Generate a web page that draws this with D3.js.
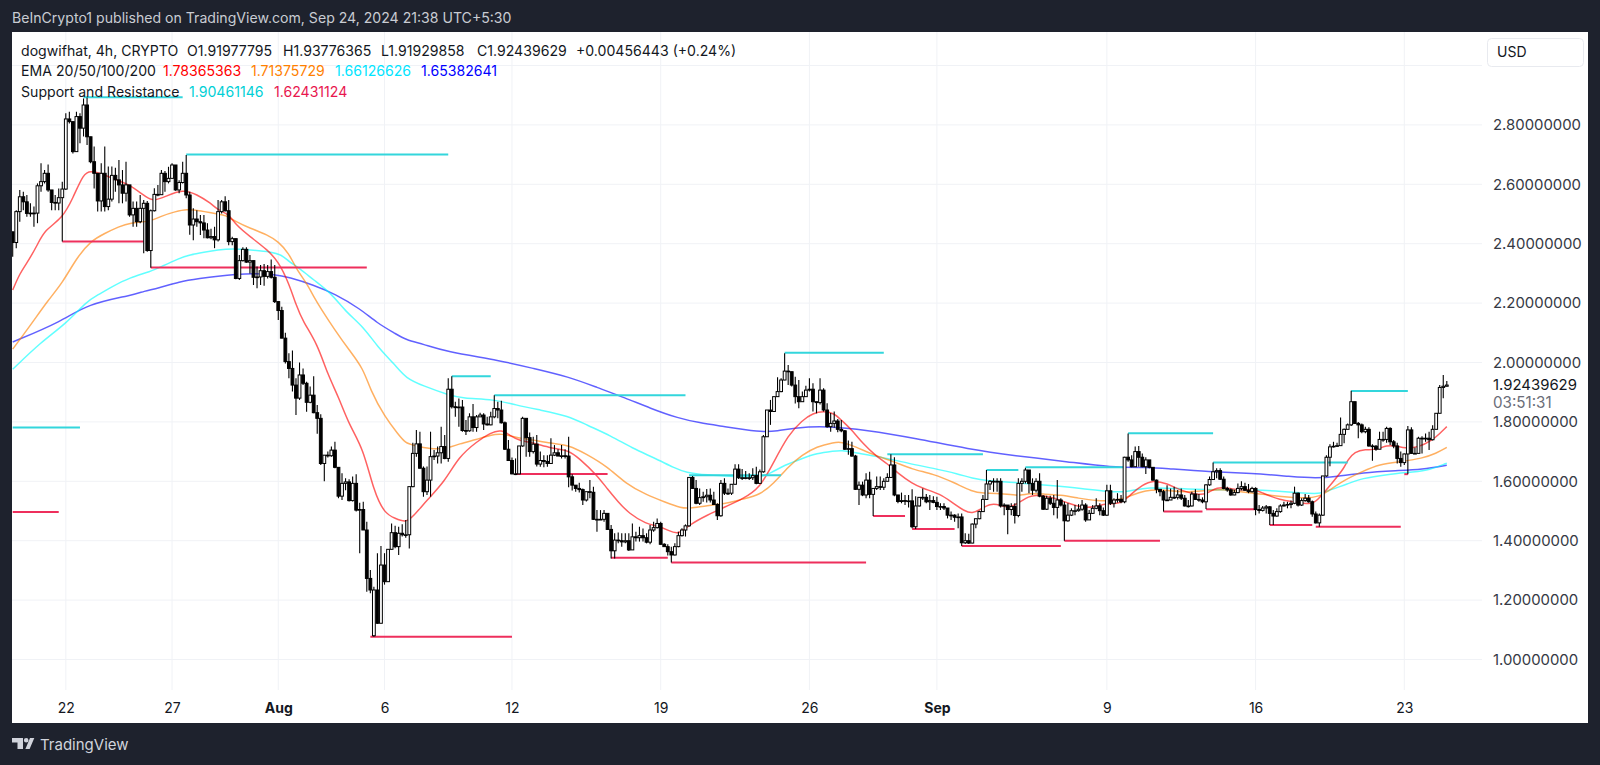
<!DOCTYPE html>
<html>
<head>
<meta charset="utf-8">
<script src="https://cdn.jsdelivr.net/npm/d3@7/dist/d3.min.js"></script>
<style>
html, body { margin: 0; padding: 0; background: #1e222d; }
svg { display: block; }
text { font-family: Inter, "Noto Sans", sans-serif; }
</style>
</head>
<body>
<script>
// 4h candles, one row = 10 candles. open = previous close unless listed in gapOpen*
var firstOpen = 2.44;
var gapOpenIndex = [102];
var gapOpenValue = [1.08];

var closes = [
2.404,2.508,2.558,2.541,2.502,2.503,2.503,2.595,2.609,2.637,
2.581,2.539,2.537,2.555,2.584,2.82,2.811,2.71,2.828,2.789,
2.867,2.76,2.676,2.637,2.544,2.637,2.525,2.55,2.63,2.615,
2.598,2.57,2.598,2.497,2.519,2.474,2.519,2.536,2.377,2.511,
2.566,2.565,2.637,2.609,2.62,2.665,2.581,2.606,2.637,2.564,
2.463,2.483,2.474,2.47,2.446,2.42,2.424,2.413,2.508,2.541,
2.511,2.407,2.417,2.283,2.343,2.381,2.338,2.343,2.287,2.288,
2.309,2.29,2.306,2.287,2.205,2.175,2.082,2.003,1.98,1.924,
1.88,1.958,1.93,1.866,1.89,1.831,1.812,1.66,1.688,1.686,
1.705,1.647,1.55,1.593,1.598,1.535,1.593,1.503,1.505,1.436,
1.273,1.234,1.234,1.122,1.318,1.262,1.371,1.427,1.38,1.425,
1.42,1.42,1.582,1.694,1.726,1.644,1.565,1.604,1.683,1.685,
1.696,1.717,1.677,1.91,1.851,1.848,1.85,1.771,1.77,1.817,
1.781,1.817,1.823,1.793,1.79,1.817,1.845,1.84,1.797,1.708,
1.67,1.625,1.625,1.719,1.812,1.747,1.7,1.725,1.658,1.67,
1.667,1.66,1.688,1.696,1.685,1.686,1.685,1.615,1.587,1.576,
1.572,1.537,1.565,1.563,1.472,1.472,1.472,1.492,1.438,1.366,
1.402,1.4,1.396,1.4,1.369,1.413,1.41,1.417,1.41,1.395,
1.436,1.444,1.458,1.388,1.38,1.363,1.352,1.38,1.417,1.436,
1.45,1.613,1.576,1.526,1.545,1.548,1.553,1.537,1.522,1.484,
1.593,1.56,1.56,1.59,1.641,1.612,1.612,1.612,1.612,1.619,
1.593,1.632,1.75,1.84,1.835,1.885,1.902,1.941,1.971,1.969,
1.924,1.885,1.868,1.885,1.907,1.91,1.868,1.865,1.907,1.84,
1.784,1.795,1.803,1.775,1.77,1.708,1.71,1.685,1.573,1.587,
1.554,1.604,1.556,1.576,1.582,1.58,1.6,1.613,1.655,1.554,
1.532,1.535,1.534,1.534,1.447,1.517,1.546,1.546,1.531,1.535,
1.529,1.515,1.515,1.51,1.486,1.486,1.479,1.48,1.393,1.4,
1.392,1.456,1.474,1.498,1.539,1.591,1.6,1.6,1.6,1.517,
1.52,1.505,1.515,1.485,1.593,1.6,1.638,1.593,1.57,1.6,
1.55,1.506,1.543,1.526,1.512,1.537,1.52,1.467,1.486,1.501,
1.501,1.506,1.52,1.47,1.492,1.509,1.517,1.501,1.486,1.568,
1.526,1.537,1.539,1.531,1.681,1.672,1.649,1.7,1.681,1.649,
1.672,1.647,1.604,1.573,1.565,1.537,1.537,1.546,1.546,1.554,
1.543,1.517,1.517,1.557,1.539,1.537,1.531,1.588,1.606,1.632,
1.636,1.607,1.576,1.571,1.554,1.562,1.576,1.582,1.57,1.565,
1.576,1.505,1.502,1.51,1.514,1.492,1.483,1.498,1.517,1.52,
1.522,1.526,1.56,1.52,1.535,1.543,1.531,1.49,1.46,1.486,
1.618,1.681,1.716,1.718,1.72,1.758,1.775,1.79,1.868,1.795,
1.79,1.767,1.775,1.719,1.718,1.708,1.741,1.741,1.778,1.733,
1.719,1.677,1.663,1.692,1.773,1.694,1.694,1.745,1.745,1.745,
1.74,1.775,1.829,1.916,1.92,1.924
];

var highs = [
2.44,2.513,2.581,2.575,2.564,2.536,2.525,2.603,2.671,2.648,
2.667,2.581,2.564,2.586,2.609,2.839,2.844,2.811,2.844,2.839,
2.889,2.892,2.76,2.727,2.637,2.671,2.727,2.66,2.66,2.656,
2.682,2.648,2.676,2.598,2.542,2.542,2.564,2.547,2.544,2.515,
2.587,2.598,2.648,2.645,2.659,2.671,2.665,2.614,2.676,2.699,
2.575,2.519,2.513,2.497,2.497,2.469,2.45,2.457,2.547,2.547,
2.56,2.547,2.423,2.417,2.362,2.388,2.388,2.362,2.343,2.323,
2.328,2.332,2.328,2.347,2.328,2.205,2.188,2.1,2.031,2.04,
1.947,2.0,1.98,1.935,1.919,1.954,1.857,1.826,1.688,1.7,
1.717,1.733,1.647,1.627,1.61,1.607,1.616,1.624,1.528,1.531,
1.464,1.301,1.245,1.358,1.382,1.358,1.371,1.458,1.45,1.447,
1.455,1.47,1.582,1.73,1.773,1.767,1.65,1.65,1.767,1.705,
1.717,1.784,1.756,1.947,1.954,1.868,1.879,1.874,1.806,1.829,
1.86,1.823,1.831,1.829,1.817,1.834,1.89,1.868,1.871,1.801,
1.739,1.68,1.677,1.719,1.817,1.812,1.764,1.75,1.756,1.7,
1.688,1.688,1.745,1.722,1.708,1.722,1.708,1.75,1.624,1.587,
1.595,1.576,1.565,1.604,1.582,1.503,1.503,1.503,1.492,1.453,
1.425,1.428,1.425,1.425,1.425,1.458,1.43,1.447,1.441,1.425,
1.453,1.464,1.475,1.464,1.391,1.388,1.38,1.391,1.43,1.442,
1.455,1.613,1.618,1.604,1.576,1.565,1.574,1.576,1.565,1.526,
1.604,1.61,1.576,1.59,1.657,1.657,1.641,1.635,1.627,1.644,
1.649,1.64,1.756,1.84,1.874,1.885,1.95,1.947,2.031,1.992,
1.969,1.952,1.941,1.902,1.922,1.947,1.93,1.868,1.947,1.913,
1.863,1.83,1.835,1.81,1.806,1.773,1.737,1.733,1.689,1.599,
1.599,1.627,1.632,1.576,1.616,1.616,1.61,1.627,1.691,1.681,
1.554,1.562,1.554,1.554,1.573,1.55,1.546,1.576,1.557,1.554,
1.55,1.548,1.526,1.526,1.509,1.498,1.489,1.492,1.492,1.425,
1.423,1.458,1.475,1.501,1.554,1.638,1.604,1.61,1.61,1.61,
1.526,1.52,1.526,1.526,1.61,1.61,1.646,1.638,1.61,1.61,
1.627,1.554,1.551,1.551,1.554,1.604,1.543,1.531,1.526,1.509,
1.52,1.523,1.537,1.526,1.503,1.52,1.543,1.526,1.512,1.588,
1.588,1.543,1.56,1.554,1.683,1.761,1.688,1.717,1.719,1.694,
1.681,1.672,1.647,1.606,1.573,1.571,1.587,1.576,1.582,1.571,
1.576,1.554,1.537,1.565,1.573,1.557,1.546,1.59,1.616,1.663,
1.644,1.644,1.616,1.582,1.576,1.571,1.593,1.6,1.595,1.591,
1.582,1.58,1.52,1.517,1.52,1.517,1.503,1.509,1.523,1.531,
1.531,1.535,1.582,1.562,1.543,1.557,1.554,1.535,1.498,1.492,
1.618,1.688,1.725,1.733,1.73,1.815,1.778,1.795,1.905,1.868,
1.8,1.795,1.784,1.782,1.725,1.722,1.767,1.767,1.784,1.782,
1.739,1.73,1.7,1.694,1.786,1.782,1.714,1.75,1.752,1.761,
1.767,1.789,1.829,1.924,1.958,1.938
];

var lows = [
2.356,2.385,2.474,2.513,2.491,2.491,2.457,2.469,2.575,2.603,
2.575,2.513,2.513,2.513,2.407,2.581,2.805,2.704,2.71,2.738,
2.761,2.732,2.671,2.586,2.508,2.508,2.508,2.513,2.542,2.575,
2.536,2.536,2.542,2.491,2.457,2.457,2.469,2.368,2.373,2.319,
2.508,2.56,2.564,2.575,2.603,2.62,2.578,2.57,2.603,2.553,
2.43,2.412,2.457,2.429,2.418,2.418,2.415,2.385,2.407,2.502,
2.508,2.395,2.395,2.28,2.278,2.34,2.336,2.3,2.261,2.25,
2.261,2.258,2.283,2.283,2.2,2.143,2.082,1.997,1.947,1.902,
1.823,1.874,1.924,1.834,1.863,1.829,1.76,1.655,1.6,1.68,
1.683,1.644,1.543,1.537,1.57,1.532,1.532,1.498,1.358,1.436,
1.228,1.223,1.077,1.12,1.122,1.252,1.262,1.37,1.375,1.352,
1.414,1.41,1.374,1.58,1.683,1.643,1.548,1.554,1.548,1.672,
1.66,1.66,1.674,1.666,1.845,1.817,1.784,1.767,1.756,1.767,
1.767,1.767,1.817,1.773,1.788,1.789,1.812,1.812,1.795,1.705,
1.669,1.624,1.621,1.624,1.716,1.683,1.683,1.694,1.65,1.649,
1.647,1.649,1.66,1.685,1.685,1.677,1.677,1.58,1.569,1.565,
1.562,1.52,1.532,1.543,1.47,1.43,1.47,1.464,1.436,1.34,
1.34,1.391,1.38,1.391,1.365,1.369,1.397,1.397,1.397,1.391,
1.388,1.43,1.441,1.386,1.38,1.35,1.327,1.35,1.378,1.414,
1.414,1.447,1.574,1.523,1.52,1.531,1.529,1.529,1.52,1.47,
1.481,1.554,1.554,1.554,1.588,1.608,1.604,1.607,1.604,1.604,
1.59,1.592,1.629,1.75,1.79,1.834,1.885,1.9,1.94,1.924,
1.919,1.862,1.846,1.868,1.885,1.902,1.835,1.829,1.859,1.835,
1.78,1.767,1.78,1.765,1.765,1.705,1.689,1.683,1.571,1.52,
1.55,1.543,1.543,1.483,1.571,1.571,1.571,1.6,1.613,1.55,
1.526,1.526,1.52,1.512,1.442,1.439,1.515,1.537,1.526,1.503,
1.526,1.503,1.503,1.503,1.475,1.47,1.464,1.442,1.382,1.389,
1.389,1.391,1.442,1.472,1.498,1.537,1.571,1.565,1.565,1.512,
1.486,1.422,1.486,1.458,1.479,1.565,1.593,1.56,1.554,1.562,
1.546,1.503,1.503,1.52,1.486,1.475,1.515,1.4,1.464,1.483,
1.486,1.498,1.501,1.464,1.47,1.49,1.506,1.486,1.483,1.483,
1.52,1.512,1.528,1.526,1.526,1.666,1.647,1.649,1.649,1.647,
1.625,1.644,1.602,1.56,1.55,1.498,1.535,1.537,1.54,1.539,
1.537,1.515,1.512,1.515,1.537,1.531,1.526,1.507,1.585,1.604,
1.61,1.604,1.573,1.565,1.551,1.553,1.56,1.57,1.568,1.56,
1.562,1.486,1.492,1.498,1.492,1.453,1.453,1.481,1.494,1.515,
1.509,1.509,1.523,1.515,1.517,1.531,1.528,1.481,1.458,1.447,
1.483,1.615,1.651,1.714,1.716,1.72,1.728,1.775,1.786,1.793,
1.745,1.762,1.762,1.716,1.669,1.703,1.708,1.733,1.73,1.722,
1.711,1.66,1.649,1.655,1.624,1.692,1.692,1.694,1.694,1.733,
1.705,1.737,1.775,1.829,1.88,1.919
];

// EMA values read at sampled candle positions
var ema20Idx = [0,2,4,7,9,14,17,20,22,25,28,33,38,40,43,48,52,56,58,61,63,67,72,75,78,80,82,86,89,92,95,99,102,105,108,111,113,117,122,126,131,135,138,141,143,147,152,157,160,165,168,171,174,179,182,185,188,191,196,202,206,211,215,219,223,226,229,232,234,237,240,244,247,250,254,257,262,265,269,271,273,276,279,281,284,287,289,294,298,302,305,309,313,316,319,322,326,330,334,337,340,344,347,350,353,358,362,367,369,373,376,377,379,382,385,388,391,393,397,401,403,405];
var ema20Val = [2.244,2.3,2.334,2.396,2.446,2.485,2.553,2.637,2.645,2.637,2.62,2.6,2.553,2.544,2.558,2.584,2.566,2.536,2.513,2.5,2.463,2.424,2.379,2.34,2.267,2.194,2.137,2.064,1.958,1.885,1.79,1.711,1.565,1.492,1.475,1.461,1.48,1.537,1.599,1.683,1.733,1.764,1.775,1.75,1.737,1.73,1.711,1.705,1.677,1.621,1.573,1.531,1.492,1.456,1.45,1.436,1.419,1.453,1.486,1.518,1.54,1.576,1.666,1.756,1.806,1.829,1.837,1.829,1.806,1.773,1.728,1.683,1.66,1.627,1.593,1.576,1.557,1.531,1.498,1.492,1.503,1.526,1.52,1.509,1.526,1.55,1.554,1.546,1.526,1.512,1.512,1.526,1.523,1.559,1.587,1.604,1.593,1.568,1.557,1.554,1.582,1.576,1.568,1.576,1.56,1.537,1.531,1.52,1.543,1.6,1.644,1.672,1.7,1.708,1.705,1.722,1.719,1.711,1.714,1.739,1.761,1.784];

var ema50Idx = [0,5,10,14,18,22,26,30,33,39,42,46,49,53,58,60,63,67,72,75,78,80,83,85,87,91,95,99,101,105,109,111,113,118,123,126,131,135,138,142,147,152,157,162,168,173,179,184,189,191,196,202,206,211,215,219,223,227,232,234,238,243,249,254,260,266,271,274,279,284,287,291,296,301,306,312,315,320,325,331,338,343,348,353,358,365,369,372,376,381,386,392,398,402,405];
var ema50Val = [2.045,2.125,2.21,2.267,2.351,2.409,2.435,2.457,2.471,2.474,2.494,2.508,2.517,2.511,2.499,2.497,2.474,2.452,2.43,2.407,2.368,2.317,2.267,2.222,2.182,2.109,2.042,1.98,1.907,1.818,1.756,1.728,1.722,1.708,1.711,1.726,1.741,1.756,1.761,1.748,1.739,1.728,1.722,1.692,1.649,1.593,1.554,1.531,1.509,1.509,1.518,1.526,1.54,1.554,1.593,1.649,1.689,1.717,1.731,1.733,1.717,1.689,1.666,1.64,1.625,1.595,1.565,1.56,1.56,1.55,1.56,1.557,1.554,1.543,1.534,1.535,1.548,1.571,1.571,1.562,1.571,1.573,1.562,1.557,1.548,1.543,1.548,1.571,1.604,1.632,1.658,1.666,1.677,1.694,1.714];

var ema100Idx = [0,8,15,21,24,28,33,39,42,47,50,54,58,62,67,73,76,78,81,85,90,94,99,103,108,111,116,123,127,136,142,149,157,162,169,175,181,187,190,196,204,211,214,218,223,227,232,234,238,245,253,260,267,271,275,284,293,302,309,315,320,332,343,353,363,369,372,377,381,388,396,400,405];
var ema100Val = [1.977,2.069,2.13,2.207,2.227,2.255,2.286,2.306,2.323,2.351,2.362,2.371,2.379,2.384,2.379,2.373,2.362,2.34,2.317,2.278,2.233,2.171,2.121,2.053,1.992,1.947,1.921,1.891,1.879,1.876,1.857,1.84,1.82,1.79,1.753,1.711,1.68,1.644,1.63,1.621,1.616,1.613,1.627,1.655,1.677,1.694,1.702,1.705,1.696,1.683,1.66,1.644,1.625,1.61,1.602,1.595,1.586,1.576,1.565,1.563,1.582,1.573,1.571,1.571,1.562,1.556,1.571,1.591,1.61,1.623,1.632,1.638,1.661];

var ema200Idx = [0,14,21,34,37,41,47,53,58,63,68,74,78,85,91,98,103,108,111,116,122,138,147,157,165,173,180,188,194,200,211,216,221,230,241,255,270,283,298,310,321,325,338,350,361,368,374,381,391,398,405];
var ema200Val = [2.069,2.139,2.197,2.227,2.24,2.25,2.272,2.283,2.291,2.297,2.3,2.297,2.287,2.261,2.231,2.182,2.132,2.098,2.076,2.062,2.037,2.006,1.98,1.952,1.916,1.881,1.846,1.812,1.797,1.786,1.765,1.769,1.781,1.786,1.773,1.745,1.708,1.686,1.666,1.647,1.647,1.644,1.632,1.627,1.616,1.61,1.616,1.629,1.636,1.64,1.654];

// support and resistance segments (candle index from, index to, price)
var resFrom = [0,20,49,124,136,191,218,247,275,286,315,339,378];
var resTo = [19,48,123,135,190,217,246,274,284,314,339,377,394];
var resPrice = [1.781,2.893,2.7,1.954,1.89,1.62,2.033,1.691,1.638,1.647,1.762,1.663,1.904];
var supFrom = [0,14,39,101,142,169,186,243,254,268,297,325,337,355,368,393];
var supTo = [13,37,100,141,168,185,241,252,266,296,324,336,351,367,392,394];
var supPrice = [1.497,2.407,2.32,1.077,1.625,1.343,1.327,1.483,1.439,1.382,1.4,1.498,1.506,1.453,1.447,1.624];

var priceTicks = [1,1.2,1.4,1.6,1.8,2,2.2,2.4,2.6,2.8];
var priceGrid = [1,1.2,1.4,1.6,1.8,2,2.2,2.4,2.6,2.8,3];
var timeIdx = [15,45,75,105,141,183,225,261,309,351,393];
var timeLabels = ["22","27","Aug","6","12","19","26","Sep","9","16","23"];
var lastClose = 1.92439629;

var width = 1600, height = 765;
var panel = {left: 12, top: 32, right: 1588, bottom: 723};
var plotRight = 1482, plotBottom = 690;

var svg = d3.select("body").append("svg")
  .attr("width", width)
  .attr("height", height);

svg.append("rect").attr("width", width).attr("height", height).attr("fill", "#1e222d");
svg.append("rect")
  .attr("x", panel.left).attr("y", panel.top)
  .attr("width", panel.right - panel.left).attr("height", panel.bottom - panel.top)
  .attr("fill", "#fff");

svg.append("clipPath").attr("id", "plot")
  .append("rect")
  .attr("x", panel.left).attr("y", panel.top)
  .attr("width", plotRight - panel.left).attr("height", plotBottom - panel.top);

var x = d3.scaleLinear().domain([0, 405]).range([12.7, 1446.8]);
var y = d3.scaleLinear().domain([1, 2]).range([659.5, 362.5]);

// grid
svg.append("g").selectAll("line").data(priceGrid).enter().append("line")
  .attr("x1", panel.left).attr("x2", plotRight)
  .attr("y1", function(d) { return y(d); }).attr("y2", function(d) { return y(d); })
  .attr("stroke", "#f0f2f6").attr("stroke-width", 1);
svg.append("g").selectAll("line").data(timeIdx).enter().append("line")
  .attr("x1", function(d) { return x(d); }).attr("x2", function(d) { return x(d); })
  .attr("y1", panel.top).attr("y2", plotBottom)
  .attr("stroke", "#f0f2f6").attr("stroke-width", 1);

// axes
var yAxis = d3.axisRight(y).tickValues(priceTicks).tickSize(0).tickPadding(0).tickFormat(d3.format(".8f"));
var yg = svg.append("g").attr("transform", "translate(1493,0)").call(yAxis);
yg.select(".domain").remove();
yg.selectAll("text").attr("font-size", 14.9).attr("fill", "#363a45").style("font-family", "Inter");

var xAxis = d3.axisBottom(x).tickValues(timeIdx).tickSize(0).tickPadding(0)
  .tickFormat(function(d, i) { return timeLabels[i]; });
var xg = svg.append("g").attr("transform", "translate(0,703)").call(xAxis);
xg.select(".domain").remove();
xg.selectAll("text").attr("font-size", 14).attr("fill", "#131722").style("font-family", "Inter")
  .attr("font-weight", function(d, i) { return (timeLabels[i] == "Aug" || timeLabels[i] == "Sep") ? 700 : 400; });

var chart = svg.append("g").attr("clip-path", "url(#plot)");

// ema lines
var emaLine = d3.line()
  .x(function(d) { return x(d[0]); })
  .y(function(d) { return y(d[1]); })
  .curve(d3.curveBasis);
var emas = [
  {idx: ema200Idx, val: ema200Val, color: "#0000ff"},
  {idx: ema100Idx, val: ema100Val, color: "#00ffff"},
  {idx: ema50Idx, val: ema50Val, color: "#ff7f00"},
  {idx: ema20Idx, val: ema20Val, color: "#ff0000"}
];
emas.forEach(function(e) {
  chart.append("path")
    .attr("d", emaLine(d3.zip(e.idx, e.val)))
    .attr("fill", "none")
    .attr("stroke", e.color)
    .attr("stroke-opacity", 0.62)
    .attr("stroke-width", 1.5);
});

// support / resistance
function levels(from, to, price, color) {
  chart.append("g").selectAll("line").data(price).enter().append("line")
    .attr("x1", function(d, i) { return x(from[i]); })
    .attr("x2", function(d, i) { return x(to[i]); })
    .attr("y1", function(d) { return y(d); })
    .attr("y2", function(d) { return y(d); })
    .attr("stroke", color)
    .attr("stroke-width", 2);
}
levels(resFrom, resTo, resPrice, "#33d6dc");
levels(supFrom, supTo, supPrice, "#ee2f5c");

// candles
var candles = closes.map(function(c, i) {
  var gap = gapOpenIndex.indexOf(i);
  var o = i == 0 ? firstOpen : (gap >= 0 ? gapOpenValue[gap] : closes[i - 1]);
  return {i: i, o: o, c: c, h: highs[i], l: lows[i]};
});
var bars = chart.append("g").selectAll("g").data(candles).enter().append("g");
bars.append("line")
  .attr("x1", function(d) { return x(d.i); }).attr("x2", function(d) { return x(d.i); })
  .attr("y1", function(d) { return y(d.h); }).attr("y2", function(d) { return y(d.l); })
  .attr("stroke", "#000").attr("stroke-width", 1.1);
bars.append("rect")
  .attr("x", function(d) { return x(d.i) - 1.4; })
  .attr("width", 2.8)
  .attr("y", function(d) { return y(Math.max(d.o, d.c)); })
  .attr("height", function(d) { return Math.max(0.7, Math.abs(y(d.o) - y(d.c))); })
  .attr("fill", function(d) { return d.c >= d.o ? "#fff" : "#000"; })
  .attr("stroke", "#000").attr("stroke-width", 1);

// header and legend
function label(str, px, py, size, color, weight) {
  return svg.append("text").attr("x", px).attr("y", py)
    .attr("font-size", size).attr("fill", color).attr("font-weight", weight || 400)
    .text(str);
}
label("BeInCrypto1 published on TradingView.com, Sep 24, 2024 21:38 UTC+5:30", 12, 23, 14.1, "#c9ccd3");

var row1 = [["dogwifhat, 4h, CRYPTO", 21], ["O1.91977795", 187], ["H1.93776365", 283], ["L1.91929858", 381], ["C1.92439629", 477], ["+0.00456443 (+0.24%)", 576]];
row1.forEach(function(r) { label(r[0], r[1], 56, 14.1, "#131722"); });
var row2 = [["EMA 20/50/100/200", 21, "#131722"], ["1.78365363", 163, "#ff0000"], ["1.71375729", 251, "#ff7f00"], ["1.66126626", 335, "#00e5ff"], ["1.65382641", 421, "#0000ff"]];
row2.forEach(function(r) { label(r[0], r[1], 76, 14.1, r[2]); });
var row3 = [["Support and Resistance", 21, "#131722"], ["1.90461146", 189, "#00d0d6"], ["1.62431124", 274, "#e8174e"]];
row3.forEach(function(r) { label(r[0], r[1], 97, 14.1, r[2]); });

// currency button and last price
svg.append("rect").attr("x", 1487.5).attr("y", 38.5).attr("width", 96).attr("height", 28).attr("rx", 4)
  .attr("fill", "#fff").attr("stroke", "#e8eaef");
label("USD", 1497, 57, 14, "#131722");
label(d3.format(".8f")(lastClose), 1493, y(lastClose) + 5, 14.9, "#131722");
label("03:51:31", 1493, y(lastClose) + 23, 15.2, "#6a6d78");

// footer
svg.append("path")
  .attr("d", "M12 738H23V749H17.5V742.6H12ZM28.5 740.3a2.3 2.3 0 1 1-4.6 0a2.3 2.3 0 1 1 4.6 0ZM30 738H34.3L29.6 749H25.4Z")
  .attr("fill", "#d1d4dc");
label("TradingView", 40, 750, 15, "#d1d4dc");
</script>
</body>
</html>
